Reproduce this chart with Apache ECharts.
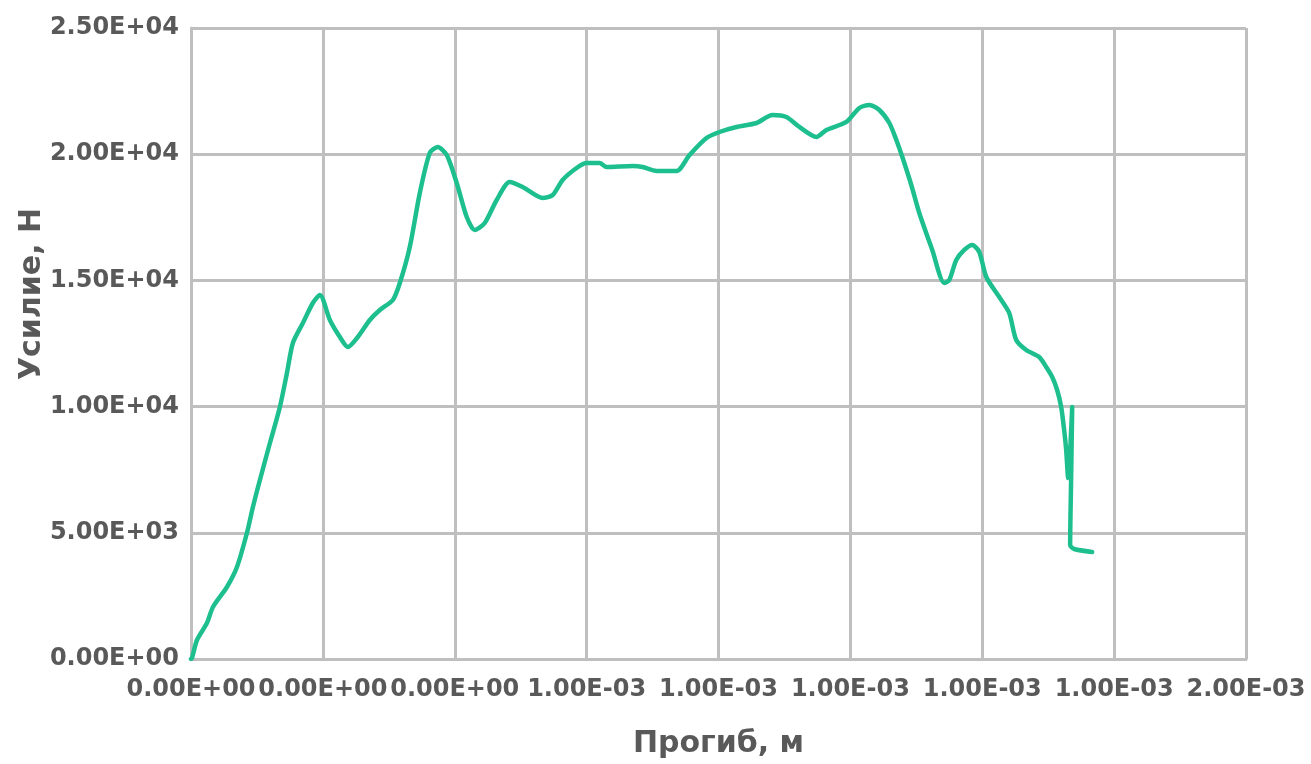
<!DOCTYPE html>
<html>
<head>
<meta charset="utf-8">
<title>Усилие — прогиб</title>
<script src="https://cdn.jsdelivr.net/npm/echarts@6/dist/echarts.min.js"></script>
<style>
  html, body { margin: 0; padding: 0; background: #ffffff; }
  #chart { width: 1311px; height: 764px; }
</style>
</head>
<body>
<div id="chart"></div>
<script>
// Deflection, m
const deflection = [
  0, 1.5e-6, 9.1e-6, 24.2e-6, 33.3e-6, 54.5e-6, 69.7e-6, 84.8e-6, 93.9e-6, 104.5e-6,
  119.7e-6, 134.8e-6, 145.5e-6, 154.5e-6, 169.7e-6, 184.8e-6, 195.5e-6, 210.6e-6, 225.8e-6, 237.9e-6,
  253.0e-6, 271.2e-6, 286.4e-6, 306.1e-6, 316.7e-6, 331.8e-6, 347.0e-6, 362.1e-6, 374.2e-6, 387.9e-6,
  403.0e-6, 418.2e-6, 430.3e-6, 445.5e-6, 463.6e-6, 483.3e-6, 503.0e-6, 533.3e-6, 548.5e-6, 563.6e-6,
  584.8e-6, 600.0e-6, 619.7e-6, 630.3e-6, 669.7e-6, 684.8e-6, 706.1e-6, 736.4e-6, 756.1e-6, 781.8e-6,
  801.5e-6, 827.3e-6, 857.6e-6, 881.8e-6, 903.0e-6, 922.7e-6, 948.5e-6, 963.6e-6, 993.9e-6, 1013.6e-6,
  1028.8e-6, 1043.9e-6, 1059.1e-6, 1069.7e-6, 1078.8e-6, 1092.4e-6, 1104.5e-6, 1124.2e-6, 1142.4e-6, 1150.0e-6,
  1160.6e-6, 1172.7e-6, 1184.8e-6, 1195.5e-6, 1206.1e-6, 1225.8e-6, 1240.9e-6, 1251.5e-6, 1266.7e-6, 1286.4e-6,
  1297.0e-6, 1306.1e-6, 1313.6e-6, 1319.7e-6, 1324.2e-6, 1327.3e-6, 1330.3e-6, 1336.4e-6, 1334.8e-6, 1333.3e-6,
  1339.4e-6, 1366.7e-6
];

// Force, N
const force = [
  0, 40, 753, 1426, 2060, 2853, 3645, 4992, 6022, 7092,
  8558, 9984, 11331, 12520, 13312, 14105, 14422, 13431, 12758, 12361,
  12758, 13431, 13827, 14224, 14897, 16324, 18463, 20048, 20285, 19968,
  18859, 17512, 16997, 17274, 18186, 18899, 18701, 18265, 18384, 18978,
  19454, 19652, 19652, 19493, 19533, 19493, 19335, 19335, 19968, 20642,
  20880, 21078, 21236, 21553, 21474, 21078, 20682, 20959, 21276, 21831,
  21949, 21751, 21236, 20563, 19889, 18780, 17671, 16205, 14897, 15016,
  15808, 16205, 16403, 16125, 15135, 14342, 13709, 12639, 12243, 11965,
  11569, 11173, 10658, 9984, 9073, 8281, 7171, 9984, 7171, 4517,
  4358, 4239
];

// Axis ranges
const xMin = 0, xMax = 0.0016, xStep = 0.0002;
const yMin = 0, yMax = 25000, yStep = 5000;

// Scientific format with two decimals; x ticks are rounded to 0.001 m first
function sci(v) {
  if (v === 0) return '0.00E+00';
  const s = v.toExponential(2);
  const [m, e] = s.split('e');
  const n = parseInt(e, 10);
  const sign = n < 0 ? '-' : '+';
  const a = Math.abs(n);
  return m + 'E' + sign + (a < 10 ? '0' + a : String(a));
}
function fmtX(v) { return sci(Math.round(v * 1000) / 1000); }
function fmtY(v) { return sci(v); }

const points = deflection.map((x, i) => [x, force[i]]);

const textColor = '#595959';
const gridColor = '#BFBFBF';
const lineColor = '#1DBF8E';
const font = '"DejaVu Sans", "Liberation Sans", Arial, sans-serif';

const chart = echarts.init(document.getElementById('chart'), null, { renderer: 'canvas' });
chart.setOption({
  backgroundColor: '#ffffff',
  animation: false,
  grid: { left: 191, right: 65, top: 28, bottom: 105, containLabel: false },
  // vertical axis title, set a little above the middle of the plot
  graphic: [{
    type: 'text',
    x: 32, y: 294,
    rotation: Math.PI / 2,
    style: {
      text: 'Усилие, Н',
      fill: textColor,
      font: 'bold 30px ' + font,
      textAlign: 'center',
      textVerticalAlign: 'middle'
    }
  }],
  xAxis: {
    type: 'value',
    min: xMin, max: xMax, interval: xStep,
    name: 'Прогиб, м',
    nameLocation: 'middle',
    nameGap: 70,
    nameTextStyle: { color: textColor, fontFamily: font, fontWeight: 'bold', fontSize: 30 },
    axisLine: { show: true, lineStyle: { color: gridColor, width: 3 } },
    axisTick: { show: false },
    axisLabel: { color: textColor, fontFamily: font, fontWeight: 'bold', fontSize: 24, margin: 19, formatter: fmtX, showMinLabel: true, showMaxLabel: true },
    splitLine: { show: true, lineStyle: { color: gridColor, width: 3 } }
  },
  yAxis: {
    type: 'value',
    min: yMin, max: yMax, interval: yStep,
    axisLine: { show: true, lineStyle: { color: gridColor, width: 3 } },
    axisTick: { show: false },
    axisLabel: { color: textColor, fontFamily: font, fontWeight: 'bold', fontSize: 24, margin: 12, formatter: fmtY },
    splitLine: { show: true, lineStyle: { color: gridColor, width: 3 } }
  },
  series: [{
    type: 'line',
    data: points,
    showSymbol: false,
    smooth: 0.25,
    lineStyle: { color: lineColor, width: 4.5, join: 'round', cap: 'round' },
    itemStyle: { color: lineColor }
  }]
});
</script>
</body>
</html>
